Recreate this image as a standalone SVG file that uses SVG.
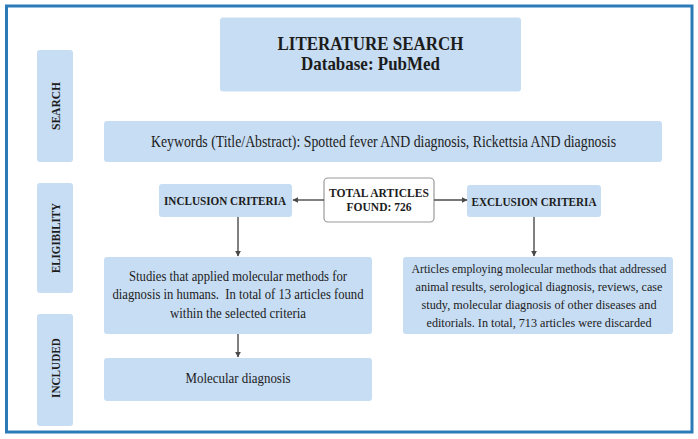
<svg xmlns="http://www.w3.org/2000/svg" width="698" height="439" viewBox="0 0 698 439">
<defs>
<style>
.box{fill:#c7ddf3;}
.t{font-family:"Liberation Serif","Times New Roman",serif;fill:#1c1c1c;text-anchor:middle;white-space:pre;}
.b{font-weight:bold;}
.side{font-family:"Liberation Serif","Times New Roman",serif;font-weight:bold;font-size:12px;fill:#1c1c1c;text-anchor:middle;}
.conn{stroke:#4a4a4a;stroke-width:1.4;fill:none;marker-end:url(#ah);}
</style>
<marker id="ah" viewBox="0 0 10 10" refX="9" refY="5" markerWidth="6" markerHeight="6" markerUnits="userSpaceOnUse" orient="auto">
<path d="M0,0 L10,5 L0,10 z" fill="#4a4a4a"/>
</marker>
</defs>
<rect width="698" height="439" fill="#ffffff"/>
<rect x="6.5" y="6" width="685.5" height="426" fill="none" stroke="#2b7bb9" stroke-width="3"/>

<g id="side-search">
<rect class="box" x="37" y="50" width="36" height="112" rx="3"/>
<text class="side" transform="translate(59.5,106) rotate(-90)" textLength="48" lengthAdjust="spacingAndGlyphs">SEARCH</text>
</g>
<g id="side-eligibility">
<rect class="box" x="37" y="183" width="36" height="110" rx="3"/>
<text class="side" transform="translate(59.5,238) rotate(-90)" textLength="70" lengthAdjust="spacingAndGlyphs">ELIGIBILITY</text>
</g>
<g id="side-included">
<rect class="box" x="37" y="314" width="36" height="112" rx="3"/>
<text class="side" transform="translate(59.5,368) rotate(-90)" textLength="60" lengthAdjust="spacingAndGlyphs">INCLUDED</text>
</g>

<g id="title">
<rect class="box" x="220" y="17.5" width="301" height="74" rx="3"/>
<text class="t b" x="370.5" y="49.5" font-size="19" textLength="186" lengthAdjust="spacingAndGlyphs">LITERATURE SEARCH</text>
<text class="t b" x="370.5" y="69.5" font-size="19" textLength="139" lengthAdjust="spacingAndGlyphs">Database: PubMed</text>
</g>

<g id="keywords">
<rect class="box" x="104" y="121" width="558" height="41" rx="3"/>
<text class="t" x="383.5" y="146.5" font-size="16" textLength="465" lengthAdjust="spacingAndGlyphs">Keywords (Title/Abstract): Spotted fever AND diagnosis, Rickettsia AND diagnosis</text>
</g>

<g id="inclusion">
<rect class="box" x="159" y="184" width="133" height="33" rx="3"/>
<text class="t b" x="225" y="204.5" font-size="13" textLength="122" lengthAdjust="spacingAndGlyphs">INCLUSION CRITERIA</text>
</g>

<g id="total">
<rect x="324" y="178" width="110" height="44" rx="4" fill="#ffffff" stroke="#9a9a9a" stroke-width="1.2"/>
<text class="t b" x="379" y="196.5" font-size="13" textLength="100" lengthAdjust="spacingAndGlyphs">TOTAL ARTICLES</text>
<text class="t b" x="379" y="211" font-size="13" textLength="65" lengthAdjust="spacingAndGlyphs">FOUND: 726</text>
</g>

<g id="exclusion">
<rect class="box" x="467" y="185" width="134" height="32" rx="3"/>
<text class="t b" x="534" y="205.5" font-size="13" textLength="125" lengthAdjust="spacingAndGlyphs">EXCLUSION CRITERIA</text>
</g>

<g id="studies">
<rect class="box" x="104" y="257" width="268" height="77" rx="3"/>
<text class="t" x="238" y="280.5" font-size="15" textLength="218" lengthAdjust="spacingAndGlyphs">Studies that applied molecular methods for</text>
<text class="t" x="238" y="299" font-size="15" textLength="251" lengthAdjust="spacingAndGlyphs">diagnosis in humans.  In total of 13 articles found</text>
<text class="t" x="238" y="318" font-size="15" textLength="136" lengthAdjust="spacingAndGlyphs">within the selected criteria</text>
</g>

<g id="articles">
<rect class="box" x="403" y="257" width="270" height="77" rx="3"/>
<text class="t" x="539" y="272.5" font-size="13" textLength="255" lengthAdjust="spacingAndGlyphs">Articles employing molecular methods that addressed</text>
<text class="t" x="539" y="290.5" font-size="13" textLength="247" lengthAdjust="spacingAndGlyphs">animal results, serological diagnosis, reviews, case</text>
<text class="t" x="539" y="308.5" font-size="13" textLength="235" lengthAdjust="spacingAndGlyphs">study, molecular diagnosis of other diseases and</text>
<text class="t" x="539" y="326.5" font-size="13" textLength="225" lengthAdjust="spacingAndGlyphs">editorials. In total, 713 articles were discarded</text>
</g>

<g id="molecular">
<rect class="box" x="104" y="358" width="268" height="43" rx="3"/>
<text class="t" x="238" y="383" font-size="15" textLength="105" lengthAdjust="spacingAndGlyphs">Molecular diagnosis</text>
</g>

<g id="connectors">
<line class="conn" x1="324" y1="200" x2="293" y2="200"/>
<line class="conn" x1="434" y1="200" x2="467" y2="200"/>
<line class="conn" x1="238" y1="217" x2="238" y2="256"/>
<line class="conn" x1="534" y1="217" x2="534" y2="256"/>
<line class="conn" x1="238" y1="334" x2="238" y2="357"/>
</g>
</svg>
